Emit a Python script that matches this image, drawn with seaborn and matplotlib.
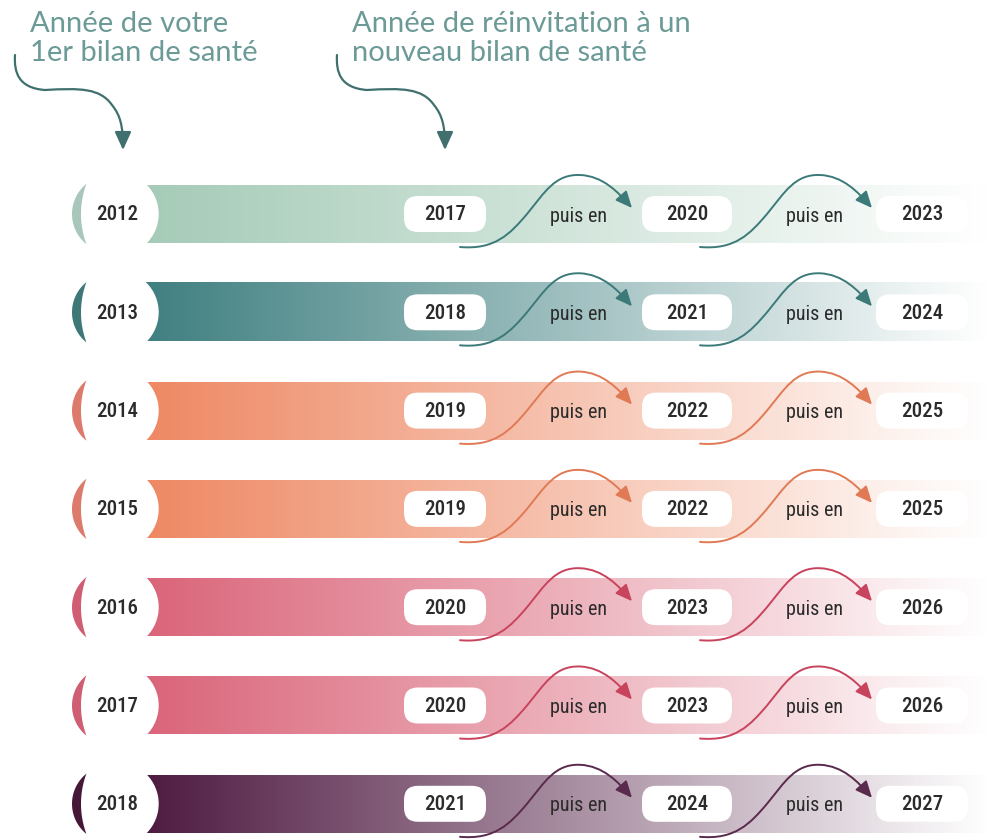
import numpy as np
import matplotlib
matplotlib.use("Agg")
import matplotlib.pyplot as plt
import seaborn as sns
from matplotlib.path import Path
from matplotlib.patches import FancyArrowPatch, FancyBboxPatch, Circle, Polygon

# data
first_year = [2012, 2013, 2014, 2015, 2016, 2017, 2018]
reinvite_1 = [2017, 2018, 2019, 2019, 2020, 2020, 2021]
reinvite_2 = [2020, 2021, 2022, 2022, 2023, 2023, 2024]
reinvite_3 = [2023, 2024, 2025, 2025, 2026, 2026, 2027]
link_label = "puis en"
header_left = "Année de votre\n1er bilan de santé"
header_right = "Année de réinvitation à un\nnouveau bilan de santé"

bar_colors = ['#a5cbb7', '#3f7f80', '#ee8863', '#ee8863', '#da6479', '#da6479', '#4e1a41']
cres_colors = ['#a9c6bb', '#3d7777', '#dc7a6c', '#dc7a6c', '#cf5e72', '#cf5e72', '#461838']
arrow_colors = ['#3b7a79', '#3b7a79', '#e07a55', '#e07a55', '#c8435c', '#c8435c', '#5a2a4d']
head_color = '#3f706d'
head_text = '#6b9a97'

sns.set_theme(style="white")
num_font = ['Roboto Condensed', 'Liberation Sans Narrow', 'DejaVu Sans']

fig = plt.figure(figsize=(9.91, 8.4), dpi=100)
ax = fig.add_axes([0, 0, 1, 1])

row_y = 214 + 98.3 * np.arange(len(first_year))
bar_x0, bar_x1, bar_h = 140, 990, 29


def s_arrow(x0, yc, color):
    verts = [(x0, yc + 33),
             (x0 + 35, yc + 36), (x0 + 50, yc + 20), (x0 + 67, yc),
             (x0 + 85, yc - 22), (x0 + 95, yc - 40), (x0 + 120, yc - 39),
             (x0 + 143, yc - 38), (x0 + 158, yc - 22), (x0 + 172, yc - 6)]
    codes = [Path.MOVETO] + [Path.CURVE4] * 9
    ax.add_patch(FancyArrowPatch(path=Path(verts, codes), color=color, lw=1.4,
                                 arrowstyle='-|>,head_length=1.0,head_width=0.45',
                                 mutation_scale=10, zorder=6))


for i, yc in enumerate(row_y):
    # gradient bar
    grad = np.array(sns.blend_palette([bar_colors[i], '#ffffff'], 200))
    grad[-12:] = np.linspace(grad[-12], [1, 1, 1], 12)
    ax.imshow(grad[np.newaxis, :, :], extent=(bar_x0, bar_x1, yc + bar_h, yc - bar_h),
              aspect='auto', interpolation='bilinear', zorder=1)

    # white disc and crescent
    ax.add_patch(Circle((117, yc), 41, color='white', zorder=2))
    yy = np.linspace(-30, 30, 60)
    outer = np.column_stack([110.8 - np.sqrt(38.8 ** 2 - yy ** 2), yc + yy])
    inner = np.column_stack([167.6 - np.sqrt(86.6 ** 2 - yy ** 2), yc + yy])[::-1]
    ax.add_patch(Polygon(np.vstack([outer, inner]), closed=True, color=cres_colors[i], lw=0, zorder=3))
    ax.text(117, yc + 1, str(first_year[i]), ha='center', va='center', fontsize=15,
            family=num_font, fontstretch='condensed', fontweight='medium', color='#2b2b2b', zorder=4)

    # year boxes
    for xc, w, year in [(445, 82, reinvite_1[i]), (687, 90, reinvite_2[i]), (922, 92, reinvite_3[i])]:
        ax.add_patch(FancyBboxPatch((xc - w / 2 + 14, yc - 18 + 14), w - 28, 36 - 28,
                                    boxstyle='round,pad=14', fc='white', ec='none', zorder=4))
        ax.text(xc, yc + 1, str(year), ha='center', va='center', fontsize=15,
                family=num_font, fontstretch='condensed', fontweight='medium', color='#2b2b2b', zorder=5)

    for xc in (578, 815):
        ax.text(xc, yc + 2, link_label, ha='center', va='center', fontsize=14.5,
                family=num_font, fontstretch='condensed', color='#2b2b2b', zorder=5)

    s_arrow(460, yc, arrow_colors[i])
    s_arrow(700, yc, arrow_colors[i])

# header notes
for dx, txt in [(0, header_left), (322, header_right)]:
    ax.text(30 + dx, 11, txt, ha='left', va='top', fontsize=21, family=['Lato', 'DejaVu Sans'],
            fontweight='normal', color=head_text, linespacing=1.15)
    verts = [(15 + dx, 55),
             (14 + dx, 72), (18 + dx, 88), (45 + dx, 90),
             (80 + dx, 88), (100 + dx, 88), (112 + dx, 105),
             (120 + dx, 115), (123 + dx, 125), (123 + dx, 150)]
    codes = [Path.MOVETO] + [Path.CURVE4] * 9
    ax.add_patch(FancyArrowPatch(path=Path(verts, codes), color=head_color, lw=1.6,
                                 arrowstyle='-|>,head_length=1.1,head_width=0.5',
                                 mutation_scale=10, zorder=6))

ax.set_xlim(0, 991)
ax.set_ylim(840, 0)
ax.axis('off')
fig.savefig('out.png', dpi=100, facecolor='white')
